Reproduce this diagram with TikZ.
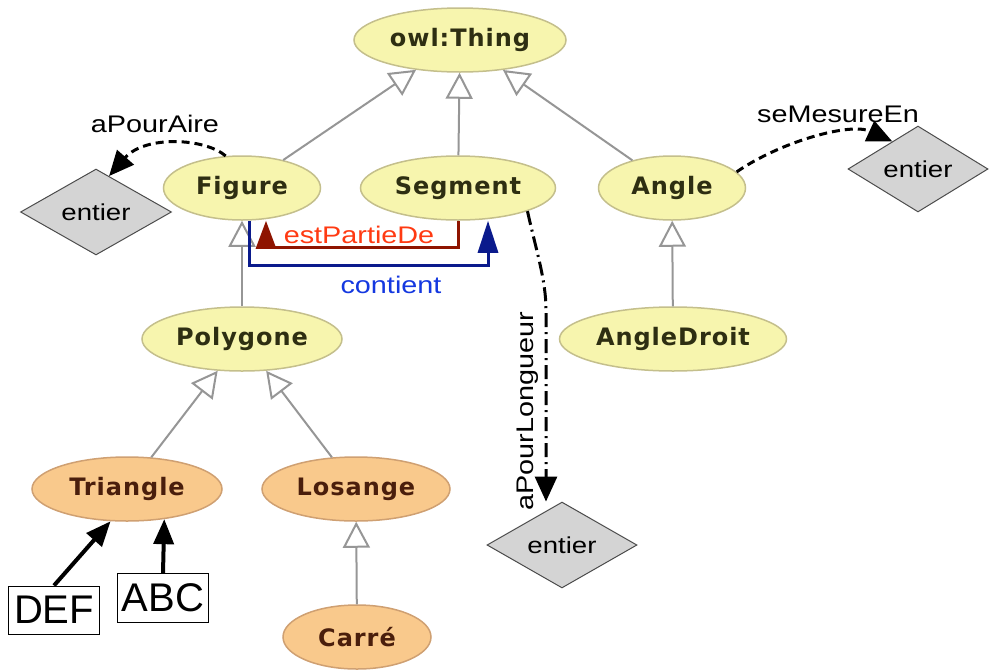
\documentclass[tikz,border=0pt]{standalone}
\usepackage{fontspec}
\setmainfont{Liberation Sans}[FakeStretch=1.2]
\newfontfamily\clsfont{DejaVu Sans}[LetterSpace=4]
\newfontfamily\boxfont{Liberation Sans}
\usetikzlibrary{shapes.geometric,arrows.meta}
\definecolor{clsfill}{HTML}{F7F5AE}
\definecolor{clsline}{HTML}{C4BF8C}
\definecolor{clstext}{HTML}{2E2E12}
\definecolor{subfill}{HTML}{F9C98C}
\definecolor{subline}{HTML}{CFA072}
\definecolor{subtext}{HTML}{4A1E0C}
\definecolor{isagray}{HTML}{969696}
\definecolor{partred}{HTML}{8E1400}
\definecolor{partlabel}{HTML}{FF3A12}
\definecolor{hasblue}{HTML}{0A1A8C}
\definecolor{haslabel}{HTML}{1438E0}
\tikzset{
  cls/.style={ellipse, draw=clsline, fill=clsfill, line width=1.5pt, inner sep=0pt,
    minimum height=64pt, text=clstext, font=\clsfont\bfseries\fontsize{24}{28}\selectfont},
  leaf/.style={cls, draw=subline, fill=subfill, text=subtext},
  entier/.style={diamond, draw=black!70, fill=black!17, line width=1pt, inner sep=0pt,
    font=\fontsize{23}{27}\selectfont},
  inst/.style={draw, fill=white, line width=1pt, inner sep=3pt,
    font=\boxfont\fontsize{40}{44}\selectfont},
  isa/.style={draw=isagray, line width=2pt, -{Triangle[fill=white, length=26pt, width=27pt]}},
  prop/.style={line width=3pt, dash pattern=on 8pt off 5pt, -{Triangle[length=25pt, width=22pt]}},
  lbl/.style={font=\fontsize{24}{28}\selectfont, anchor=base}
}
\begin{document}
\begin{tikzpicture}[x=1pt, y=1pt]
\useasboundingbox (0,0) rectangle (990,-670);

\node[cls, minimum width=212pt] (thing) at (460,-40) {owl:Thing};
\node[cls, minimum width=157pt] (figure) at (242,-188) {Figure};
\node[cls, minimum width=195pt] (segment) at (458,-188) {Segment};
\node[cls, minimum width=147pt] (angle) at (672,-188) {Angle};
\node[cls, minimum width=200pt] (polygone) at (242,-339) {Polygone};
\node[cls, minimum width=227pt] (angledroit) at (673,-339) {AngleDroit};
\node[leaf, minimum width=190pt] (triangle) at (127,-489) {Triangle};
\node[leaf, minimum width=188pt] (losange) at (356,-489) {Losange};
\node[leaf, minimum width=148pt] (carre) at (357,-637) {Carré};

\node[entier, minimum width=151pt, minimum height=60pt] (entierA) at (96,-212) {entier};
\node[entier, minimum width=140pt, minimum height=60pt] (entierC) at (918,-169) {entier};
\node[entier, minimum width=150pt, minimum height=58pt] (entierB) at (562,-545) {entier};

\node[inst, minimum width=91pt, minimum height=48pt] (def) at (54,-610) {DEF};
\node[inst, minimum width=91pt, minimum height=49pt] (abc) at (163,-598) {ABC};

\foreach \a/\b in {figure/thing, segment/thing, angle/thing, polygone/figure,
  angledroit/angle, triangle/polygone, losange/polygone, carre/losange}
{
    \draw[isa] (\a) -- (\b);
}

\draw[line width=4pt, -{Triangle[length=25pt, width=20pt]}] (def.north) -- (triangle.243);
\draw[line width=4pt, -{Triangle[length=25pt, width=20pt]}] (abc.north) -- (triangle.-39);

\draw[partred, line width=3pt, -{Triangle[length=28pt, width=20pt]}]
  (segment.south) -- ++(0,-27) -| ([xshift=24pt]figure.south);
\draw[hasblue, line width=3pt, -{Triangle[length=32pt, width=20pt]}]
  ([xshift=7pt]figure.south) -- ++(0,-45) -| ([xshift=30pt]segment.south);
\node[lbl, text=partlabel] (partlbl) at (359,-243) {estPartieDe};
\node[lbl, text=haslabel] (haslbl) at (391,-293) {contient};

\draw[prop] (figure.117) .. controls (205,-138) and (145,-135) .. (entierA.70);
\node[lbl] (airelbl) at (155,-132) {aPourAire};
\draw[prop] (angle.14) .. controls (780,-142) and (850,-122) .. (entierC.133);
\node[lbl] (mesurelbl) at (838,-122) {seMesureEn};
\coordinate (lenbend) at (546,-310);
\draw[prop, dash pattern=on 14pt off 5pt on 2pt off 5pt]
  (segment.south east) .. controls (536,-250) and (546,-280) .. (lenbend) -- (lenbend |- entierB.north);
\node[lbl, rotate=90] (longlbl) at (533,-411) {aPourLongueur};
\end{tikzpicture}
\end{document}
